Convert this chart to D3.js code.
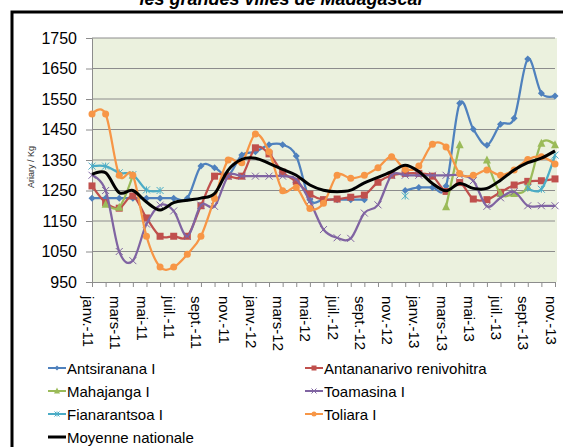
<!DOCTYPE html>
<html lang="fr">

<head>
    <meta charset="UTF-8">
    <title>Prix du riz</title>
    <style>
        body { margin: 0; background: #fff; }
        text { font-family: "Liberation Sans", Arial, sans-serif; }
    </style>
</head>

<body>
    <div id="my_dataviz"></div>
    <script src="https://d3js.org/d3.v7.min.js"></script>
    <script>
        // months Jan 2011 -> Nov 2013
        var months = ["janv.-11", "févr.-11", "mars-11", "avr.-11", "mai-11", "juin-11", "juil.-11", "août-11", "sept.-11", "oct.-11", "nov.-11", "déc.-11",
            "janv.-12", "févr.-12", "mars-12", "avr.-12", "mai-12", "juin-12", "juil.-12", "août-12", "sept.-12", "oct.-12", "nov.-12", "déc.-12",
            "janv.-13", "févr.-13", "mars-13", "avr.-13", "mai-13", "juin-13", "juil.-13", "août-13", "sept.-13", "oct.-13", "nov.-13"];
        var yTicks = [950, 1050, 1150, 1250, 1350, 1450, 1550, 1650, 1750];

        var antsiranana = [1225, 1225, 1225, 1225, 1225, 1225, 1225, 1225, 1330, 1325, 1300, 1366,
            1377, 1400, 1400, 1363, 1220, 1220, 1220, 1220, 1220, null, null, 1250,
            1260, 1260, 1265, 1536, 1451, 1398, 1467, 1487, 1681, 1569, 1560];
        var antananarivo = [1265, 1210, 1192, 1232, 1160, 1100, 1100, 1100, 1200, 1297, 1297, 1297,
            1390, 1370, 1310, 1280, 1238, 1220, 1222, 1228, 1235, 1277, 1300, 1306,
            1306, 1297, 1247, 1276, 1222, 1220, 1244, 1268, 1280, 1282, 1288];
        var mahajanga = [null, 1205, 1195, 1300, null, null, null, null, null, null, null, null,
            null, null, null, null, null, null, null, null, null, null, null, null,
            null, null, 1197, 1400, null, 1350, 1240, 1240, 1262, 1405, 1400];
        var toamasina = [1300, 1250, 1050, 1020, 1140, 1202, 1183, 1100, 1202, 1198, 1297, 1297,
            1297, 1297, 1297, 1287, 1215, 1122, 1095, 1093, 1176, 1203, 1300, 1300,
            1300, 1300, 1300, 1300, 1282, 1198, 1226, 1246, 1200, 1200, 1200];
        var fianarantsoa = [1330, 1330, 1308, 1302, 1252, 1250, null, null, null, null, null, null,
            null, null, null, null, null, null, null, null, null, null, null, 1232,
            null, null, null, null, null, null, null, null, 1258, 1254, 1366];
        var toliara = [1501, 1501, 1300, 1300, 1100, 999, 999, 1041, 1100, 1224, 1350, 1341,
            1435, 1377, 1249, 1260, 1191, 1208, 1300, 1290, 1300, 1325, 1361, 1320,
            1330, 1402, 1393, 1306, 1300, 1317, 1300, 1317, 1352, 1361, 1337];
        var moyenne = [1303, 1308, 1243, 1250, 1212, 1186, 1210, 1218, 1225, 1240, 1317, 1352,
            1356, 1339, 1319, 1300, 1268, 1251, 1246, 1251, 1275, 1293, 1312, 1333,
            1312, 1273, 1249, 1273, 1257, 1257, 1284, 1317, 1341, 1356, 1380];

        var series = [
            { name: "Antsiranana I", values: antsiranana, color: "#4F81BD", marker: "diamond" },
            { name: "Antananarivo renivohitra", values: antananarivo, color: "#C0504D", marker: "square" },
            { name: "Mahajanga I", values: mahajanga, color: "#9BBB59", marker: "triangle" },
            { name: "Toamasina I", values: toamasina, color: "#8064A2", marker: "x" },
            { name: "Fianarantsoa I", values: fianarantsoa, color: "#4BACC6", marker: "star" },
            { name: "Toliara I", values: toliara, color: "#F79646", marker: "circle" },
            { name: "Moyenne nationale", values: moyenne, color: "#000000", marker: "none" }
        ];

        var W = 563, H = 447;
        var plot = { left: 92, right: 555, top: 38, bottom: 282 };

        var svg = d3.select("#my_dataviz").append("svg")
            .attr("width", W)
            .attr("height", H);

        // title (cut at top in the original)
        svg.append("text")
            .attr("x", 282)
            .attr("y", 5)
            .attr("text-anchor", "middle")
            .style("font-size", "18px")
            .style("font-weight", "bold")
            .style("font-style", "italic")
            .text("les grandes villes de Madagascar");

        // chart frame
        svg.append("rect")
            .attr("x", 12)
            .attr("y", 12)
            .attr("width", 700)
            .attr("height", 600)
            .attr("fill", "none")
            .attr("stroke", "#000")
            .attr("stroke-width", 3);

        var x = d3.scalePoint()
            .domain(months)
            .range([plot.left, plot.right]);

        var y = d3.scaleLinear()
            .domain([950, 1750])
            .range([plot.bottom, plot.top]);

        // plot background
        svg.append("rect")
            .attr("x", plot.left)
            .attr("y", plot.top)
            .attr("width", plot.right - plot.left + 2)
            .attr("height", plot.bottom - plot.top)
            .attr("fill", "#EBF1DE");

        // gridlines
        svg.append("g")
            .selectAll("line")
            .data(yTicks.slice(1))
            .join("line")
            .attr("x1", plot.left)
            .attr("x2", plot.right)
            .attr("y1", function (d) { return y(d); })
            .attr("y2", function (d) { return y(d); })
            .attr("stroke", "#8C8C8C")
            .attr("stroke-width", 1);

        // y axis
        var yAxis = d3.axisLeft(y).tickValues(yTicks).tickFormat(d3.format("d")).tickSize(6).tickPadding(9);
        var gy = svg.append("g")
            .attr("transform", "translate(" + plot.left + ",0)")
            .call(yAxis);
        gy.select(".domain").attr("stroke", "#8C8C8C");
        gy.selectAll(".tick line").attr("stroke", "#8C8C8C");
        gy.selectAll(".tick text")
            .style("font-size", "16px")
            .style("font-family", "'Liberation Sans', Arial, sans-serif")
            .attr("fill", "#000");

        // x axis
        var xAxis = d3.axisBottom(x).tickSize(5).tickFormat("");
        var gx = svg.append("g")
            .attr("transform", "translate(0," + plot.bottom + ")")
            .call(xAxis);
        gx.select(".domain").attr("stroke", "#8C8C8C");
        gx.selectAll(".tick line").attr("stroke", "#8C8C8C");

        svg.append("g")
            .selectAll("text")
            .data(months.filter(function (d, i) { return i % 2 === 0; }))
            .join("text")
            .attr("transform", function (d) { return "translate(" + (x(d) - 4) + "," + (plot.bottom + 14) + ") rotate(90)"; })
            .attr("dominant-baseline", "central")
            .style("font-size", "15px")
            .text(function (d) { return d; });

        // axis title
        svg.append("text")
            .attr("transform", "translate(31,167) rotate(-90)")
            .attr("text-anchor", "middle")
            .attr("dominant-baseline", "central")
            .style("font-size", "9px")
            .attr("fill", "#333")
            .text("Ariary / Kg");

        function drawMarker(g, type, color, size) {
            var s = size;
            if (type === "diamond") {
                g.append("path").attr("d", "M0," + (-s) + "L" + s + ",0L0," + s + "L" + (-s) + ",0Z").attr("fill", color);
            } else if (type === "square") {
                g.append("rect").attr("x", -s).attr("y", -s).attr("width", 2 * s).attr("height", 2 * s).attr("fill", color);
            } else if (type === "triangle") {
                g.append("path").attr("d", "M0," + (-s - 1) + "L" + (s + 0.5) + "," + s + "L" + (-s - 0.5) + "," + s + "Z").attr("fill", color);
            } else if (type === "circle") {
                g.append("circle").attr("r", s).attr("fill", color);
            } else if (type === "x") {
                g.append("path").attr("d", "M" + (-s) + "," + (-s) + "L" + s + "," + s + "M" + (-s) + "," + s + "L" + s + "," + (-s))
                    .attr("stroke", color).attr("stroke-width", 1);
            } else if (type === "star") {
                g.append("path").attr("d", "M" + (-s) + "," + (-s) + "L" + s + "," + s + "M" + (-s) + "," + s + "L" + s + "," + (-s) + "M0," + (-s) + "L0," + s)
                    .attr("stroke", color).attr("stroke-width", 1);
            }
        }

        var line = d3.line()
            .defined(function (d) { return d != null; })
            .x(function (d, i) { return x(months[i]); })
            .y(function (d) { return y(d); })
            .curve(d3.curveCatmullRom.alpha(0));

        series.forEach(function (s) {
            svg.append("path")
                .datum(s.values)
                .attr("fill", "none")
                .attr("stroke", s.color)
                .attr("stroke-width", s.marker === "none" ? 3 : 2.25)
                .attr("stroke-linejoin", "round")
                .attr("d", line);

            if (s.marker !== "none") {
                s.values.forEach(function (v, i) {
                    if (v == null) return;
                    var g = svg.append("g").attr("transform", "translate(" + x(months[i]) + "," + y(v) + ")");
                    drawMarker(g, s.marker, s.color, 3.5);
                });
            }
        });

        // legend, two columns
        var legend = svg.append("g");
        series.forEach(function (s, i) {
            var lx = (i % 2 === 0) ? 48 : 305;
            var ly = 368 + Math.floor(i / 2) * 23;
            var g = legend.append("g").attr("transform", "translate(" + lx + "," + ly + ")");
            g.append("line")
                .attr("x1", 0).attr("x2", 18)
                .attr("y1", 0).attr("y2", 0)
                .attr("stroke", s.color)
                .attr("stroke-width", s.marker === "none" ? 3 : 2);
            if (s.marker !== "none") {
                var m = g.append("g").attr("transform", "translate(9,0)");
                drawMarker(m, s.marker, s.color, 2.5);
            }
            g.append("text")
                .attr("x", 19)
                .attr("y", 0)
                .attr("dominant-baseline", "central")
                .style("font-size", "15px")
                .text(s.name);
        });
    </script>
</body>

</html>
